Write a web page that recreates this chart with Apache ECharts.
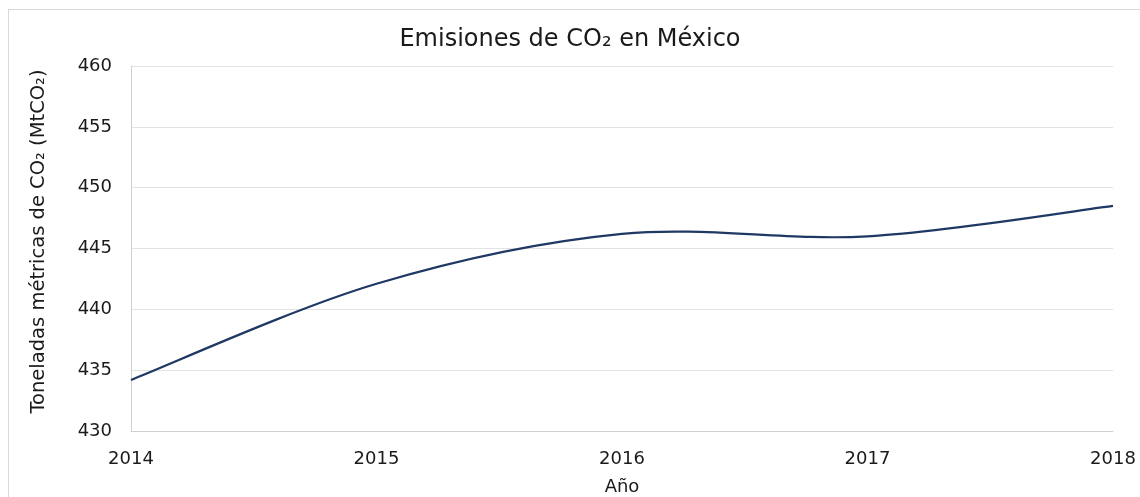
<!DOCTYPE html>
<html><head><meta charset="utf-8">
<script src="https://cdn.jsdelivr.net/npm/echarts@6/dist/echarts.min.js"></script>
<style>
html,body{margin:0;padding:0;background:#fff;overflow:hidden;}
#frame{position:absolute;left:8px;top:9px;width:1200px;height:600px;border:1px solid #d9d9d9;box-sizing:border-box;}
#chart{position:absolute;left:0;top:0;width:1140px;height:497px;}
</style></head>
<body>
<div id="frame"></div>
<div id="chart"></div>
<script>
const years = ['2014','2015','2016','2017','2018'];
const emissions = [434.2, 442.1, 446.2, 446.0, 448.5];
const yTicks = {min: 430, max: 460, interval: 5};
const titleText = 'Emisiones de CO₂ en México';
const yName = 'Toneladas métricas de CO₂ (MtCO₂)';
const xName = 'Año';

const font = 'DejaVu Sans';
const lineColor = '#203864';

function smoothPath(pts) {
  // Catmull-Rom style bezier through the projected data points
  let d = 'M' + pts[0][0] + ' ' + pts[0][1];
  for (let i = 0; i < pts.length - 1; i++) {
    const p0 = pts[Math.max(i - 1, 0)], p1 = pts[i], p2 = pts[i + 1], p3 = pts[Math.min(i + 2, pts.length - 1)];
    const c1 = [p1[0] + (p2[0] - p0[0]) / 6, p1[1] + (p2[1] - p0[1]) / 6];
    const c2 = [p2[0] - (p3[0] - p1[0]) / 6, p2[1] - (p3[1] - p1[1]) / 6];
    d += ' C' + c1[0] + ' ' + c1[1] + ' ' + c2[0] + ' ' + c2[1] + ' ' + p2[0] + ' ' + p2[1];
  }
  return d;
}

const chart = echarts.init(document.getElementById('chart'));
chart.setOption({
  backgroundColor: 'transparent',
  animation: false,
  title: {text: titleText, left: 'center', top: 23,
    textStyle: {fontFamily: font, fontSize: 24, fontWeight: 'normal', color: '#1a1a1a'}},
  grid: {left: 131, right: 27, top: 66, bottom: 66, containLabel: false, outerBoundsMode: 'none'},
  xAxis: {
    type: 'category', data: years, boundaryGap: false,
    name: xName, nameLocation: 'middle', nameGap: 47,
    nameTextStyle: {fontFamily: font, fontSize: 18, color: '#1a1a1a'},
    axisLine: {lineStyle: {color: '#d0d0d0'}},
    axisTick: {show: false},
    axisLabel: {fontFamily: font, fontSize: 18, color: '#1a1a1a', margin: 19},
    splitLine: {show: false}
  },
  yAxis: {
    type: 'value', min: yTicks.min, max: yTicks.max, interval: yTicks.interval,
    name: yName, nameLocation: 'middle', nameGap: 82, nameRotate: 90,
    nameTextStyle: {fontFamily: font, fontSize: 19.5, color: '#1a1a1a', padding: [0, 0, 0, 14]},
    axisLine: {show: true, lineStyle: {color: '#d0d0d0'}},
    axisTick: {show: false},
    axisLabel: {fontFamily: font, fontSize: 18, color: '#1a1a1a', margin: 19},
    splitLine: {lineStyle: {color: '#e3e3e3'}}
  },
  series: [{
    type: 'custom',
    data: emissions.map((v, i) => [i, v]),
    encode: {x: 0, y: 1},
    renderItem: function (params, api) {
      if (params.dataIndex !== 0) return null;
      const pts = emissions.map((v, i) => api.coord([i, v]));
      return {
        type: 'path',
        shape: {pathData: smoothPath(pts)},
        style: {stroke: lineColor, fill: null, lineWidth: 2.2}
      };
    }
  }]
});
</script>
</body></html>
